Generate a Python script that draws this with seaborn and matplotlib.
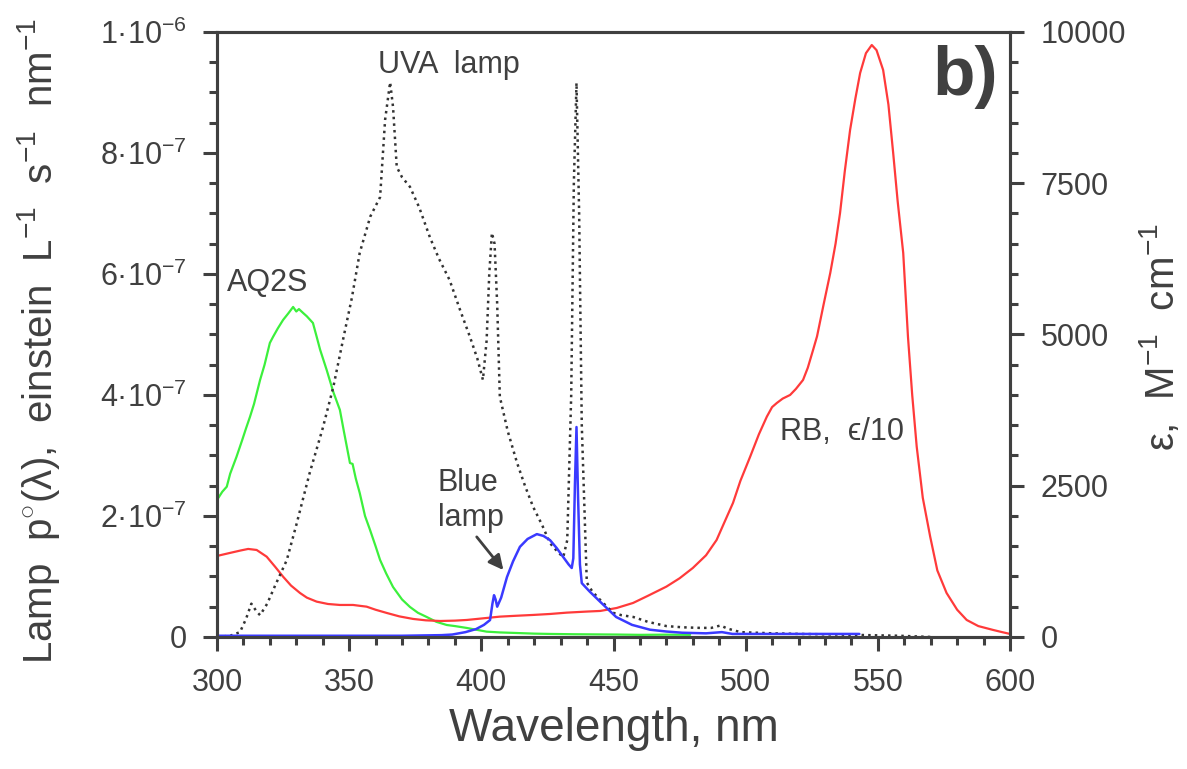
import numpy as np
import pandas as pd
import seaborn as sns
import matplotlib
matplotlib.use("Agg")
from matplotlib import pyplot as plt

# UVA lamp, photon flux in units of 1e-7 einstein L-1 s-1 nm-1
uva_wl = [300, 305, 308.7, 311, 313, 315, 316.3, 319, 322, 326.4, 330, 335, 340, 344, 348,
          351, 354, 358, 361.7, 363.6, 365.5, 366.6, 368, 370, 373, 376.5, 380.6, 384, 388,
          392, 395.7, 398.5, 400.6, 402, 403, 404, 405, 406, 407, 410, 413.5, 416.5, 419.6,
          423, 426, 429, 431, 432.5, 434, 435, 436, 437, 438, 439.9, 442, 445, 449.8, 453,
          457.5, 463, 470, 476, 482.7, 487, 490.5, 493, 498, 510, 520.6, 535, 546, 558, 570]
uva_p = [0.0, 0.02, 0.08, 0.3, 0.55, 0.42, 0.36, 0.55, 0.85, 1.27, 1.85, 2.7, 3.45, 4.13, 4.98,
         5.6, 6.35, 6.95, 7.27, 8.55, 9.17, 8.76, 7.77, 7.6, 7.44, 7.1, 6.6, 6.25, 5.9,
         5.4, 4.96, 4.6, 4.25, 4.9, 6.0, 6.68, 6.5, 5.5, 3.97, 3.4, 2.88, 2.5, 2.15,
         1.85, 1.55, 1.4, 1.32, 1.6, 4.0, 7.5, 9.16, 7.0, 3.5, 0.9, 0.75, 0.61, 0.4, 0.36,
         0.33, 0.25, 0.18, 0.16, 0.15, 0.15, 0.19, 0.14, 0.08, 0.06, 0.05, 0.04, 0.03, 0.02, 0.0]

# Blue lamp, same units
blue_wl = [300, 320, 350, 370, 385, 389, 394, 398, 401, 403.3, 404.2, 404.8, 405.4, 406, 407.5,
           409.7, 412, 414.6, 417.5, 421, 423.5, 426, 428.5, 431, 433, 434.2, 434.8, 435.4, 436,
           436.6, 437.3, 438, 441, 445, 451, 457, 463.8, 470, 476, 485, 491, 495, 508, 520, 530, 543]
blue_p = [0.02, 0.02, 0.02, 0.02, 0.03, 0.04, 0.08, 0.13, 0.2, 0.28, 0.55, 0.69, 0.62, 0.5, 0.65,
          0.99, 1.25, 1.49, 1.62, 1.7, 1.67, 1.6, 1.47, 1.32, 1.2, 1.14, 1.3, 2.5, 3.47,
          2.3, 1.2, 0.89, 0.75, 0.58, 0.33, 0.2, 0.12, 0.09, 0.07, 0.06, 0.08, 0.05, 0.05, 0.05, 0.05, 0.05]

# AQ2S molar absorption coefficient, M-1 cm-1
aq2s_wl = [300, 302, 303.7, 305, 307.4, 309.5, 311, 312.5, 314, 316.3, 318, 320, 321.2, 323, 325,
           327, 328.8, 330, 331, 332.6, 334, 336.3, 337.7, 339, 341.5, 344, 346.5, 348, 350.3,
           351.3, 352.5, 354, 356, 357.9, 360, 361.7, 364, 366.6, 370, 373, 376, 379.3, 383,
           386.9, 390, 394.5, 398, 402, 407, 413, 420, 426, 435, 445, 451, 460, 470, 479]
aq2s_eps = [2264, 2400, 2484, 2700, 2980, 3250, 3450, 3641, 3850, 4248, 4500, 4860, 4960, 5100, 5240,
            5350, 5455, 5380, 5420, 5355, 5300, 5190, 4964, 4750, 4413, 4050, 3752, 3400, 2876,
            2860, 2620, 2380, 2000, 1769, 1500, 1273, 1050, 826, 620, 496, 400, 331, 250,
            198, 180, 149, 120, 88, 75, 66, 55, 50, 45, 42, 40, 35, 38, 35]

# Rose Bengal, epsilon / 10
rb_wl = [300, 305, 309, 311.8, 315, 318.8, 322, 325, 328, 331.4, 334, 337.7, 342, 346.5, 351.5,
         354, 356.6, 360, 364.2, 369, 374.2, 379, 384.4, 390, 394.5, 400, 407, 413, 419.6, 426,
         432.3, 440, 445, 451.2, 457.4, 463, 470, 475, 480, 485, 489, 492, 495.2, 498, 501.7,
         505, 508, 510, 511.8, 514, 516.8, 519, 521.7, 523.5, 525.5, 527, 529.5, 532, 534,
         535.7, 537.5, 539.5, 541.5, 543.3, 545.5, 547.7, 549.5, 552, 554, 555.8, 557.5, 559.6,
         561.4, 563, 564.7, 567, 569.8, 572.5, 576, 580, 583.6, 588, 593.6, 597, 600]
rb_eps = [1339, 1390, 1430, 1455, 1438, 1327, 1160, 997, 850, 727, 650, 584, 545, 529, 529,
          515, 501, 450, 397, 340, 298, 275, 264, 270, 281, 305, 336, 350, 364, 380,
          402, 420, 430, 479, 562, 680, 832, 970, 1140, 1350, 1603, 1900, 2215, 2580, 2980,
          3350, 3641, 3800, 3868, 3940, 4000, 4100, 4248, 4450, 4744, 4970, 5500, 6017, 6500,
          7008, 7700, 8380, 8900, 9322, 9650, 9785, 9700, 9372, 8800, 8000, 7200, 6347,
          4960, 4000, 3146, 2300, 1658, 1100, 727, 450, 281, 180, 116, 80, 50]

left_ticks = [0, 2e-7, 4e-7, 6e-7, 8e-7, 1e-6]
left_ticklabels = ["0", r"2·10$^{-7}$", r"4·10$^{-7}$", r"6·10$^{-7}$", r"8·10$^{-7}$", r"1·10$^{-6}$"]
right_ticks = [0, 2500, 5000, 7500, 10000]
x_ticks = [300, 350, 400, 450, 500, 550, 600]

ink = "#404040"

sns.set_style("ticks")
plt.rcParams['font.family'] = ['Liberation Sans', 'DejaVu Sans']
plt.rcParams['mathtext.fontset'] = 'custom'
plt.rcParams['mathtext.rm'] = 'Liberation Sans'
plt.rcParams['mathtext.it'] = 'Liberation Sans:italic'
plt.rcParams['mathtext.bf'] = 'Liberation Sans:bold'
plt.rcParams['text.color'] = ink
plt.rcParams['axes.labelcolor'] = ink

fig = plt.figure(figsize=(11.87, 7.69), dpi=100)
ax = fig.add_axes([0.1828, 0.1717, 0.6681, 0.7867])
ax2 = ax.twinx()

uva = pd.DataFrame({"wl": uva_wl, "p": np.array(uva_p) * 1e-7})
blue = pd.DataFrame({"wl": blue_wl, "p": np.array(blue_p) * 1e-7})
aq2s = pd.DataFrame({"wl": aq2s_wl, "eps": aq2s_eps})
rb = pd.DataFrame({"wl": rb_wl, "eps": rb_eps})

sns.lineplot(data=aq2s, x="wl", y="eps", ax=ax2, color="#3cf03c", lw=1.6, estimator=None)
sns.lineplot(data=rb, x="wl", y="eps", ax=ax2, color="#ff3a3a", lw=1.6, estimator=None)
sns.lineplot(data=uva, x="wl", y="p", ax=ax, color="#333333", lw=1.8, ls=":", estimator=None)
sns.lineplot(data=blue, x="wl", y="p", ax=ax, color="#3a3aff", lw=1.8, estimator=None)
ax.set_zorder(ax2.get_zorder() + 1)
ax.patch.set_visible(False)

ax.set_xlim(300, 600)
ax.set_ylim(0, 1e-6)
ax2.set_ylim(0, 10000)
ax.set_xticks(x_ticks)
ax.set_xticks(np.arange(300, 601, 10), minor=True)
ax.set_yticks(left_ticks)
ax.set_yticklabels(left_ticklabels)
ax.set_yticks(np.arange(0, 1.0001e-6, 5e-8), minor=True)
ax2.set_yticks(right_ticks)
ax2.set_yticklabels([str(t) for t in right_ticks])
ax2.set_yticks(np.arange(0, 10001, 500), minor=True)

for a in (ax, ax2):
    for s in a.spines.values():
        s.set_visible(True)
        s.set_linewidth(2.2)
        s.set_color(ink)
    a.tick_params(which="major", length=10, width=2.2, direction="out", colors=ink,
                  labelsize=22, pad=12)
    a.tick_params(which="minor", length=6, width=2.2, direction="out", colors=ink)
ax.tick_params(axis="x", which="both", top=False)
ax.tick_params(axis="y", which="both", right=False)
ax2.tick_params(axis="y", which="both", left=False)

ax.set_xlabel("Wavelength, nm", fontsize=33)
ax.xaxis.set_label_coords(0.5, -0.115)
ax.set_ylabel(r"Lamp  p$^{\circ}$(λ),  einstein  L$^{-1}$  s$^{-1}$  nm$^{-1}$", fontsize=29)
ax.yaxis.set_label_coords(-0.195, 0.49)
ax2.set_ylabel(r"ε,  M$^{-1}$  cm$^{-1}$", fontsize=29)
ax2.yaxis.set_label_coords(1.161, 0.496)

ax.text(387.8, 0.945e-6, "UVA  lamp", fontsize=22, ha="center", va="center")
ax.text(319.1, 0.585e-6, "AQ2S", fontsize=22, ha="center", va="center")
ax.text(383.6, 2.26e-7, "Blue\nlamp", fontsize=22, ha="left", va="center", linespacing=1.2)
ax.annotate("", xy=(409, 1.07e-7), xytext=(397.6, 1.69e-7),
            arrowprops=dict(arrowstyle="-|>", color=ink, lw=2, mutation_scale=22))
ax.text(536.5, 3.39e-7, "RB,  ϵ/10", fontsize=22, ha="center", va="center")
ax.text(583, 0.925e-6, "b)", fontsize=50, fontweight="bold", ha="center", va="center")

fig.savefig("out.png", dpi=100)
